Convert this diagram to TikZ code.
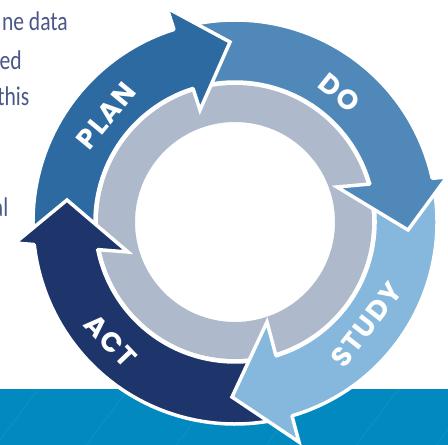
\documentclass[tikz,border=0pt]{standalone}
\usepackage{fontspec}
\usetikzlibrary{intersections}
\newfontfamily\labfont{Poppins}
\newfontfamily\bodyfont{Carlito}[FakeStretch=0.8]
\definecolor{planc}{HTML}{2D6AA1}
\definecolor{doc}{HTML}{5089B9}
\definecolor{studyc}{HTML}{85B8DC}
\definecolor{actc}{HTML}{1D356B}
\definecolor{ringc}{HTML}{AEBACB}
\definecolor{bandc}{HTML}{0189C0}
\definecolor{txtc}{HTML}{4A5889}
\def\rin{140}
\def\rout{202}
\begin{document}
\begin{tikzpicture}[x=1pt,y=1pt,
  outl/.style={draw=white,line width=3.5pt,line join=miter},
  headl/.style={draw=white,line width=3.5pt,line join=miter,line cap=round},
  lab/.style={text=white,inner sep=0pt,font=\labfont\bfseries\fontsize{27.5}{28}\selectfont\addfontfeatures{LetterSpace=6}},
  bodytxt/.style={text=txtc,inner sep=0pt,anchor=base east,font=\bodyfont\fontsize{27}{32}\selectfont}]
\useasboundingbox (-235,-223) rectangle (213,222);
\fill[white] (-235,-223) rectangle (213,222);
% bottom band
\fill[bandc] (-235,-223) rectangle (213,-167);
\begin{scope}
  \clip (-235,-223) rectangle (213,-167);
  \foreach \x in {-240,-150,-60,30,120,200}
    \draw[white,opacity=0.055,line width=1.2pt] (\x,-225) -- ++(45,60);
\end{scope}
% inner grey ring
\fill[ringc,even odd rule] (0,0) circle[radius=137] (0,0) circle[radius=100];
% circles for intersections
\path[name path=cin] (0,0) circle[radius=\rin];
\path[name path=cout] (0,0) circle[radius=\rout];
% bodies
\filldraw[fill=planc,outl] (184:\rout) arc[start angle=184,end angle=104,radius=\rout] -- (104:\rin) arc[start angle=104,end angle=184,radius=\rin] -- cycle;
\filldraw[fill=doc,outl] (104:\rout) arc[start angle=104,end angle=10,radius=\rout] -- (10:\rin) arc[start angle=10,end angle=104,radius=\rin] -- cycle;
\filldraw[fill=studyc,outl] (10:\rout) arc[start angle=10,end angle=-77,radius=\rout] -- (-77:\rin) arc[start angle=-77,end angle=10,radius=\rin] -- cycle;
\filldraw[fill=actc,outl] (283:\rout) arc[start angle=283,end angle=184,radius=\rout] -- (184:\rin) arc[start angle=184,end angle=283,radius=\rin] -- cycle;
% head points
\coordinate (pO) at (-68,214); \coordinate (pT) at (-5,180); \coordinate (pI) at (-35,112);
\coordinate (dI) at (102,35); \coordinate (dT) at (173,-8); \coordinate (dO) at (212,45);
\coordinate (sI) at (32,-100); \coordinate (sT) at (-3,-175); \coordinate (sO) at (64,-220);
\coordinate (aO) at (-220,-21); \coordinate (aT) at (-168,22); \coordinate (aI) at (-107,-30);
\path[name path=basep] (pO) -- (pI);
\path[name path=based] (dO) -- (dI);
\path[name path=bases] (sO) -- (sI);
\path[name path=basea] (aO) -- (aI);
\path[name intersections={of=basep and cin,by=pJI}];
\path[name intersections={of=basep and cout,by=pJO}];
\path[name intersections={of=based and cin,by=dJI}];
\path[name intersections={of=based and cout,by=dJO}];
\path[name intersections={of=bases and cin,by=sJI}];
\path[name intersections={of=bases and cout,by=sJO}];
\path[name intersections={of=basea and cin,by=aJI}];
\path[name intersections={of=basea and cout,by=aJO}];
% heads
\filldraw[fill=planc,headl] (pJI) -- (pI) -- (pT) -- (pO) -- (pJO);
\filldraw[fill=doc,headl] (dJI) -- (dI) -- (dT) -- (dO) -- (dJO);
\filldraw[fill=studyc,headl] (sJI) -- (sI) -- (sT) -- (sO) -- (sJO);
\filldraw[fill=actc,headl] (aJI) -- (aI) -- (aT) -- (aO) -- (aJO);
% labels
\node[lab,rotate=50.5] (lplan) at (140.5:167) {PLAN};
\node[lab,rotate=-39] (ldo) at (51:166) {DO};
\node[lab,rotate=52] (lstudy) at (-38:167) {STUDY};
\node[lab,rotate=-46.3] (lact) at (223.7:172) {ACT};
% side text
\node[bodytxt] (t1) at (-167,191.3) {ne data};
\node[bodytxt] (t2) at (-213,153) {ed};
\node[bodytxt] (t3) at (-205.5,117) {this};
\node[bodytxt] (t4) at (-226.5,6) {al};
\end{tikzpicture}
\end{document}
